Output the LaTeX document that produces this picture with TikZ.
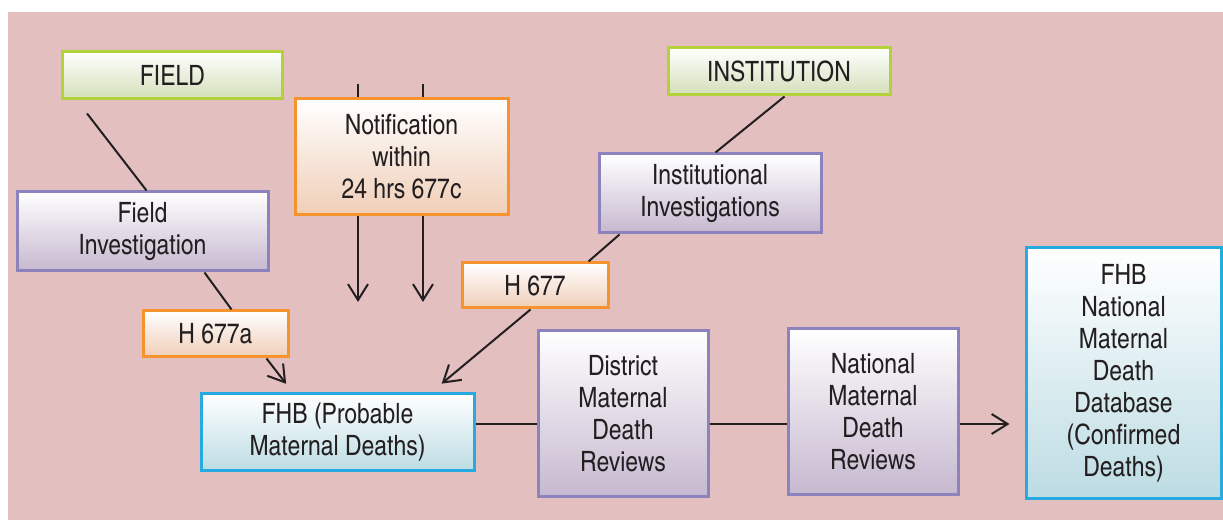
\documentclass[tikz,border=0pt]{standalone}
\usepackage{fontspec}
\newfontfamily\condfont{TeX Gyre Heros Cn}
\usetikzlibrary{arrows.meta}
\definecolor{PanelPink}{HTML}{E3BFC0}
\definecolor{EdgeGreen}{HTML}{B3D239}
\definecolor{FillGreen}{HTML}{D3DFB9}
\definecolor{EdgePurple}{HTML}{8C82BC}
\definecolor{FillPurple}{HTML}{C6B8CF}
\definecolor{EdgeOrange}{HTML}{F7932E}
\definecolor{FillOrange}{HTML}{F0CEB7}
\definecolor{EdgeBlue}{HTML}{25AAE1}
\definecolor{FillBlue}{HTML}{BCDCE3}
\definecolor{InkDark}{HTML}{231F20}

\begin{document}
\begin{tikzpicture}[
  x=0.5pt,y=-0.5pt,
  every node/.style={font=\condfont\fontsize{14}{16}\selectfont,text=InkDark},
  box/.style={draw,line width=1.5pt,align=center,inner sep=0pt},
  sitebox/.style={box,draw=EdgeGreen,top color=white,bottom color=FillGreen},
  invbox/.style={box,draw=EdgePurple,top color=white,bottom color=FillPurple},
  formbox/.style={box,draw=EdgeOrange,top color=white,bottom color=FillOrange},
  fhbbox/.style={box,draw=EdgeBlue,top color=white,bottom color=FillBlue},
  link/.style={line width=1pt,draw=InkDark},
  flow/.style={link,-{Straight Barb[length=8pt,width=10pt,line width=1pt]}}
]
  \useasboundingbox (0,0) rectangle (1223,522);
  \fill[PanelPink] (8,12) rectangle (1223,520);

  % sources
  \node[sitebox,minimum width=110pt,minimum height=23.5pt] (field) at (172.5,75.5) {FIELD};
  \node[sitebox,minimum width=111pt,minimum height=23.5pt] (inst) at (779,71.5) {INSTITUTION};
  \node[formbox,minimum width=106.5pt,minimum height=58pt] (notif) at (401.5,157)
    {Notification\\within\\24 hrs 677c};

  % investigations
  \node[invbox,minimum width=125.5pt,minimum height=39.5pt] (fieldinv) at (142.5,231.5)
    {Field\\Investigation};
  \node[invbox,minimum width=111pt,minimum height=39.5pt] (instinv) at (710,193.5)
    {Institutional\\Investigations};

  % forms
  \node[formbox,minimum width=73pt,minimum height=22.5pt] (hform) at (535,285.5) {H 677};
  \node[formbox,minimum width=72.5pt,minimum height=23pt] (hforma) at (215.5,334) {H 677a};

  % reviews
  \node[fhbbox,minimum width=136.5pt,minimum height=38.5pt] (fhb) at (337.5,432.5)
    {FHB (Probable\\Maternal Deaths)};
  \node[invbox,minimum width=85pt,minimum height=83pt] (district) at (623,414)
    {District\\Maternal\\Death\\Reviews};
  \node[invbox,minimum width=85pt,minimum height=83pt] (national) at (873,411.5)
    {National\\Maternal\\Death\\Reviews};
  \node[fhbbox,minimum width=97.5pt,minimum height=125.5pt] (fhbnat) at (1123.5,373.5)
    {FHB\\National\\Maternal\\Death\\Database\\(Confirmed\\Deaths)};

  % free ends of the notification arrows
  \coordinate (ntopa) at (358,84);
  \coordinate (ntopb) at (423,84);
  \coordinate (nenda) at (358,302);
  \coordinate (nendb) at (423,302);

  % connectors
  \draw[link,shorten <=8.2pt] ([xshift=8pt]field.south west) -- ([xshift=65.5pt]fieldinv.north west);
  \draw[link] ([xshift=94.5pt]fieldinv.south west) -- ([xshift=45pt]hforma.north west);
  \draw[flow,shorten >=5.5pt] ([xshift=62.5pt]hforma.south west) -- ([xshift=46.7pt]fhb.north west);

  \draw[link] (ntopa) -- (ntopa |- notif.north);
  \draw[link] (ntopb) -- (ntopb |- notif.north);
  \draw[flow] (nenda |- notif.south) -- (nenda);
  \draw[flow] (nendb |- notif.south) -- (nendb);

  \draw[link] ([xshift=59pt]inst.south west) -- ([xshift=59pt]instinv.north west);
  \draw[link] ([xshift=11pt]instinv.south west) -- ([xshift=64pt]hform.north west);
  \draw[flow,shorten >=6.9pt] ([xshift=35pt]hform.south west) -- ([xshift=115.8pt]fhb.north west);

  \draw[link] ([yshift=4.25pt]fhb.east) -- ([yshift=4.25pt]fhb.east -| district.west);
  \draw[link] ([yshift=-5pt]district.east) -- ([yshift=-5pt]district.east -| national.west);
  \draw[flow,shorten >=7.5pt] ([yshift=-6.25pt]national.east) -- ([yshift=-6.25pt]national.east -| fhbnat.west);
\end{tikzpicture}
\end{document}
